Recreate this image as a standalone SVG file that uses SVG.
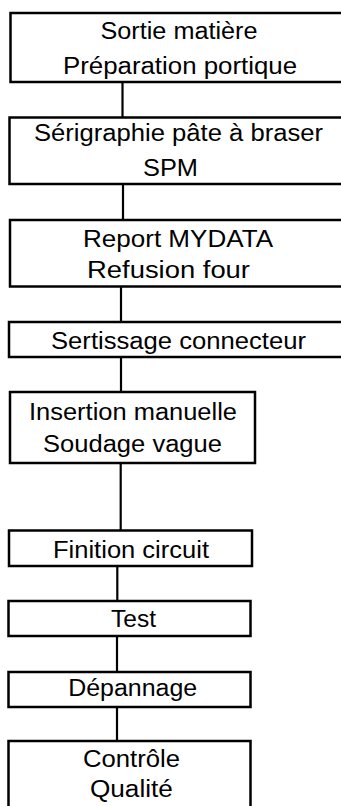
<svg xmlns="http://www.w3.org/2000/svg" width="341" height="806" viewBox="0 0 341 806">
<style>
.box{fill:#fff;stroke:#000;stroke-width:2.5}
.lbl{font-family:"Liberation Sans",Arial,sans-serif;font-size:23px;fill:#000;text-anchor:middle}
.con{stroke:#000;stroke-width:2.2;fill:none}
</style>
<rect width="341" height="806" fill="#fff"/>
<g id="connectors">
<line class="con" x1="122.5" y1="82" x2="122.5" y2="117.5"/>
<line class="con" x1="123" y1="184" x2="123" y2="220"/>
<line class="con" x1="121" y1="286.5" x2="121" y2="322"/>
<line class="con" x1="121" y1="357" x2="121" y2="392"/>
<line class="con" x1="120.7" y1="463" x2="120.7" y2="530.5"/>
<line class="con" x1="117.3" y1="566" x2="117.3" y2="601"/>
<line class="con" x1="117" y1="636" x2="117" y2="672"/>
<line class="con" x1="117" y1="707" x2="117" y2="741"/>
</g>
<g id="n1">
<rect class="box" x="10.5" y="13" width="340" height="69"/>
<text class="lbl" x="179" y="39" textLength="157" lengthAdjust="spacingAndGlyphs">Sortie matière</text>
<text class="lbl" x="180" y="74" textLength="234" lengthAdjust="spacingAndGlyphs">Préparation portique</text>
</g>
<g id="n2">
<rect class="box" x="9.5" y="117.5" width="341" height="66.5"/>
<text class="lbl" x="178.5" y="141" textLength="289" lengthAdjust="spacingAndGlyphs">Sérigraphie pâte à braser</text>
<text class="lbl" x="170.5" y="176" textLength="55" lengthAdjust="spacingAndGlyphs">SPM</text>
</g>
<g id="n3">
<rect class="box" x="10" y="220" width="341" height="66.5"/>
<text class="lbl" x="178" y="247" textLength="190" lengthAdjust="spacingAndGlyphs">Report MYDATA</text>
<text class="lbl" x="168.5" y="277.5" textLength="163" lengthAdjust="spacingAndGlyphs">Refusion four</text>
</g>
<g id="n4">
<rect class="box" x="9" y="322" width="342" height="35"/>
<text class="lbl" x="178.5" y="348.5" textLength="255" lengthAdjust="spacingAndGlyphs">Sertissage connecteur</text>
</g>
<g id="n5">
<rect class="box" x="10" y="392" width="245" height="71"/>
<text class="lbl" x="133" y="419.5" textLength="208" lengthAdjust="spacingAndGlyphs">Insertion manuelle</text>
<text class="lbl" x="132.5" y="452" textLength="179" lengthAdjust="spacingAndGlyphs">Soudage vague</text>
</g>
<g id="n6">
<rect class="box" x="9" y="530.5" width="243" height="35.5"/>
<text class="lbl" x="131" y="557.5" textLength="156" lengthAdjust="spacingAndGlyphs">Finition circuit</text>
</g>
<g id="n7">
<rect class="box" x="8.5" y="601" width="242" height="35"/>
<text class="lbl" x="133.5" y="627" textLength="45" lengthAdjust="spacingAndGlyphs">Test</text>
</g>
<g id="n8">
<rect class="box" x="8.5" y="672" width="242" height="35"/>
<text class="lbl" x="132.7" y="696" textLength="129" lengthAdjust="spacingAndGlyphs">Dépannage</text>
</g>
<g id="n9">
<rect class="box" x="8.5" y="741" width="242" height="80"/>
<text class="lbl" x="131.5" y="766.5" textLength="97" lengthAdjust="spacingAndGlyphs">Contrôle</text>
<text class="lbl" x="131.4" y="797" textLength="83" lengthAdjust="spacingAndGlyphs">Qualité</text>
</g>
</svg>
